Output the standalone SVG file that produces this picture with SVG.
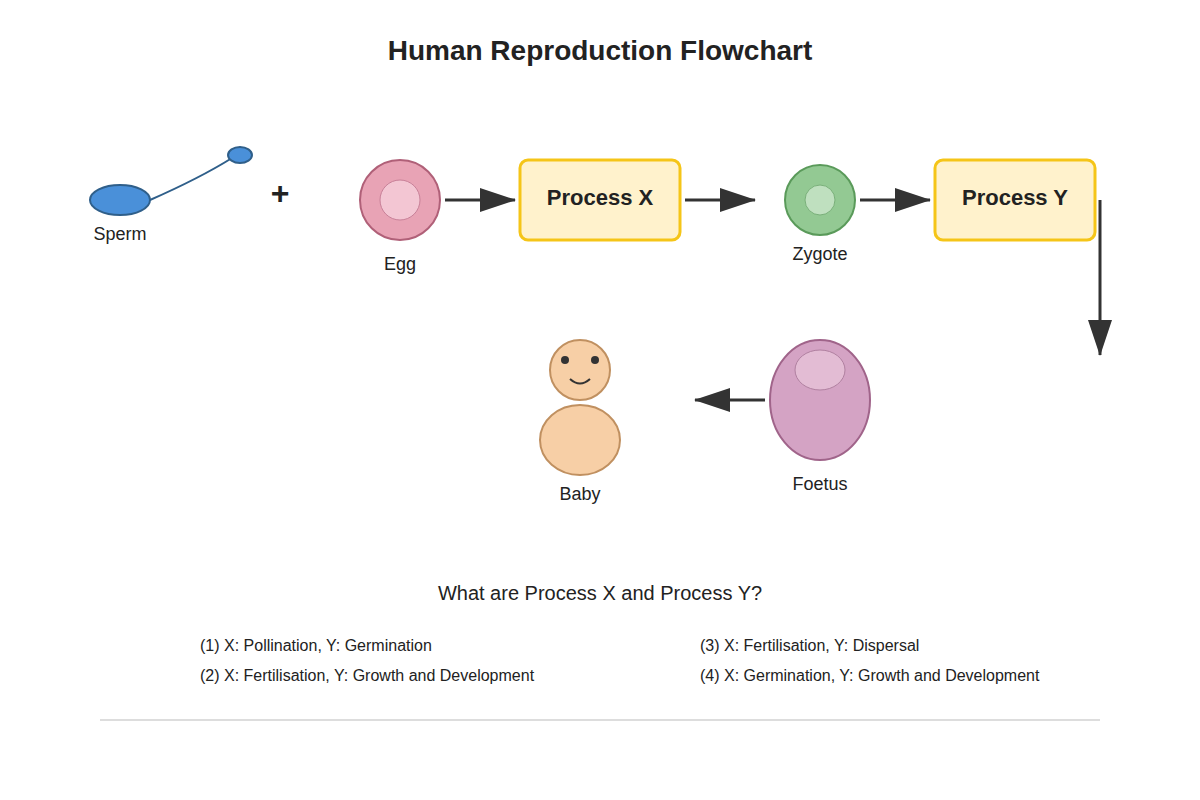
<svg xmlns="http://www.w3.org/2000/svg" width="1200" height="800" viewBox="0 0 1200 800">
<defs>
<style>
text{font-family:"Liberation Sans",Arial,sans-serif;fill:#222}
.lbl{font-size:18px;text-anchor:middle}
.box{fill:#fff2cc;stroke:#f5c518;stroke-width:3}
.bt{font-size:22px;font-weight:bold;text-anchor:middle}
.opt{font-size:16px}
.conn{stroke:#333;stroke-width:3;fill:none}
</style>
<marker id="ah" markerWidth="12" markerHeight="10" refX="11" refY="5" orient="auto" markerUnits="userSpaceOnUse" viewBox="0 0 12 10"><path d="M0,0 L12,5 L0,10 z" fill="#333"/></marker>
<marker id="ahb" viewBox="0 0 36 24" refX="35" refY="12" markerWidth="36" markerHeight="24" orient="auto" markerUnits="userSpaceOnUse"><path d="M0,0 L36,12 L0,24 z" fill="#333"/></marker>
</defs>
<rect width="1200" height="800" fill="#fff"/>
<text x="600" y="60" style="font-size:28px;font-weight:bold;text-anchor:middle">Human Reproduction Flowchart</text>
<g id="sperm">
<path d="M150,200 Q200,178 232,158" stroke="#2f5f8a" stroke-width="2" fill="none"/>
<ellipse cx="120" cy="200" rx="30" ry="15" fill="#4a90d9" stroke="#2f5f8a" stroke-width="2"/>
<ellipse cx="240" cy="155" rx="12" ry="8" fill="#4a90d9" stroke="#2f5f8a" stroke-width="2"/>
<text x="120" y="240" class="lbl">Sperm</text>
</g>
<text x="280" y="204" style="font-size:32px;font-weight:bold;text-anchor:middle">+</text>
<g id="egg">
<circle cx="400" cy="200" r="40" fill="#e8a3b5" stroke="#b06078" stroke-width="2"/>
<circle cx="400" cy="200" r="20" fill="#f3c6d3" stroke="#c88098" stroke-width="1"/>
<text x="400" y="270" class="lbl">Egg</text>
</g>
<g id="processX"><rect x="520" y="160" width="160" height="80" rx="8" class="box"/><text x="600" y="205" class="bt">Process X</text></g>
<g id="zygote">
<circle cx="820" cy="200" r="35" fill="#93c993" stroke="#5a9a5a" stroke-width="2"/>
<circle cx="820" cy="200" r="15" fill="#bfe0bf" stroke="#7ab07a" stroke-width="1"/>
<text x="820" y="260" class="lbl">Zygote</text>
</g>
<g id="processY"><rect x="935" y="160" width="160" height="80" rx="8" class="box"/><text x="1015" y="205" class="bt">Process Y</text></g>
<g id="foetus">
<ellipse cx="820" cy="400" rx="50" ry="60" fill="#d4a3c4" stroke="#a0648a" stroke-width="2"/>
<ellipse cx="820" cy="370" rx="25" ry="20" fill="#e3bcd4" stroke="#b080a0" stroke-width="1"/>
<text x="820" y="490" class="lbl">Foetus</text>
</g>
<g id="baby">
<ellipse cx="580" cy="440" rx="40" ry="35" fill="#f7cfa6" stroke="#c09060" stroke-width="2"/>
<circle cx="580" cy="370" r="30" fill="#f7cfa6" stroke="#c09060" stroke-width="2"/>
<circle cx="565" cy="360" r="4" fill="#333"/><circle cx="595" cy="360" r="4" fill="#333"/>
<path d="M570,379 Q580,388 590,379" stroke="#333" stroke-width="2" fill="none"/>
<text x="580" y="500" class="lbl">Baby</text>
</g>
<g id="connectors">
<line x1="445" y1="200" x2="515" y2="200" class="conn" marker-end="url(#ahb)"/>
<line x1="685" y1="200" x2="755" y2="200" class="conn" marker-end="url(#ahb)"/>
<line x1="860" y1="200" x2="930" y2="200" class="conn" marker-end="url(#ahb)"/>
<line x1="1100" y1="200" x2="1100" y2="355" class="conn" marker-end="url(#ahb)"/>
<line x1="765" y1="400" x2="695" y2="400" class="conn" marker-end="url(#ahb)"/>
</g>
<text x="600" y="600" style="font-size:20px;text-anchor:middle">What are Process X and Process Y?</text>
<text x="200" y="651" class="opt">(1) X: Pollination, Y: Germination</text>
<text x="200" y="681" class="opt">(2) X: Fertilisation, Y: Growth and Development</text>
<text x="700" y="651" class="opt">(3) X: Fertilisation, Y: Dispersal</text>
<text x="700" y="681" class="opt">(4) X: Germination, Y: Growth and Development</text>
<line x1="100" y1="720" x2="1100" y2="720" stroke="#ddd" stroke-width="2"/>
</svg>
